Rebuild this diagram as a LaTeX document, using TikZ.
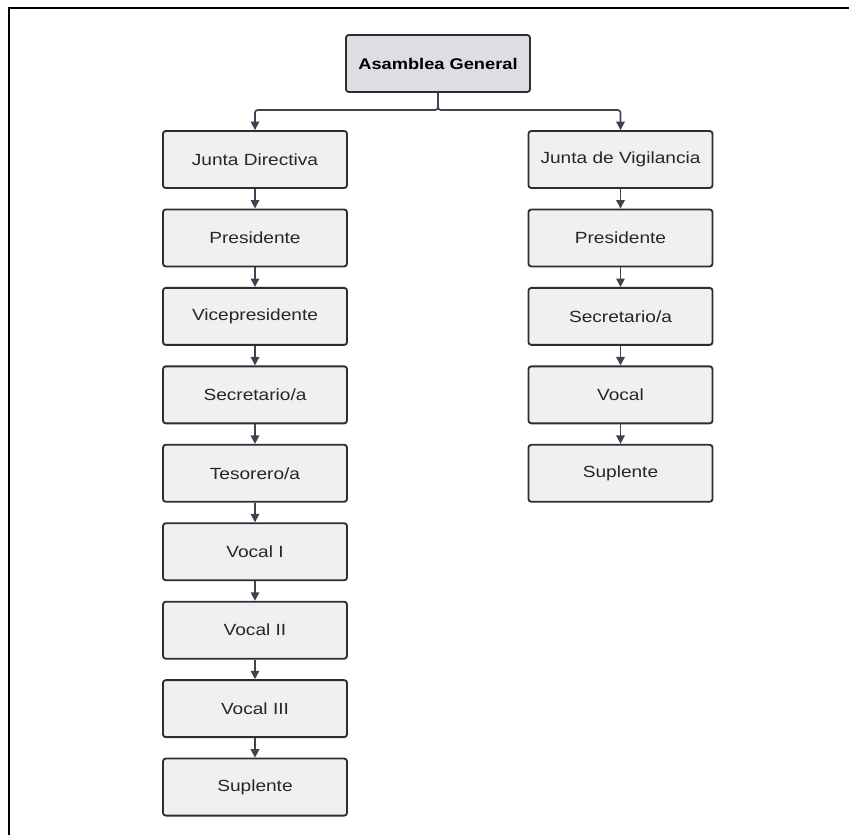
\documentclass[tikz,border=0pt]{standalone}
\usepackage{fontspec}
\setmainfont[FakeStretch=1.18]{Liberation Sans}
\usepackage{tikz}
\usetikzlibrary{positioning, arrows.meta}

\definecolor{boxfill}{HTML}{EFF0F2}
\definecolor{topfill}{HTML}{DCDEE3}
\definecolor{boxline}{HTML}{2B2D31}
\definecolor{arrline}{HTML}{3D4450}

\tikzset{
  cargo/.style={draw=boxline, line width=1.3pt, fill=boxfill, rounded corners=2pt,
    minimum width=4.6cm, minimum height=1.425cm, text=black!85,
    font=\fontsize{11.5}{13}\selectfont},
  asamblea/.style={cargo, fill=topfill, text=black, font=\fontsize{11}{13}\selectfont\bfseries},
  flecha/.style={draw=arrline, line width=1.2pt, arrows={-Triangle[length=6pt, width=6pt]}}
}

\begin{document}
\begin{tikzpicture}[x=0.025cm, y=-0.025cm, node distance=0.49cm]
	\useasboundingbox (0,0) rectangle (849,835);
	% marco
	\draw [line width=1.8pt] (9,835) -- (9,8) -- (849,8);

	\node [asamblea] (ag) at (438,63.5) {Asamblea General};
	\coordinate (split) at (438,110);

	% junta directiva
	\node [cargo] (jd) at (255,159.5) {Junta Directiva};
	\node [cargo, below=of jd] (jdpres) {Presidente};
	\node [cargo, below=of jdpres] (jdvice) {Vicepresidente};
	\node [cargo, below=of jdvice] (jdsecr) {Secretario/a};
	\node [cargo, below=of jdsecr] (jdteso) {Tesorero/a};
	\node [cargo, below=of jdteso] (jdvoc1) {Vocal I};
	\node [cargo, below=of jdvoc1] (jdvoc2) {Vocal II};
	\node [cargo, below=of jdvoc2] (jdvoc3) {Vocal III};
	\node [cargo, below=of jdvoc3] (jdsupl) {Suplente};

	% junta de vigilancia
	\node [cargo] (jv) at (620.5,159.5) {Junta de Vigilancia};
	\node [cargo, below=of jv] (jvpres) {Presidente};
	\node [cargo, below=of jvpres] (jvsecr) {Secretario/a};
	\node [cargo, below=of jvsecr] (jvvoc) {Vocal};
	\node [cargo, below=of jvvoc] (jvsupl) {Suplente};

	\draw [flecha, rounded corners=2pt] (ag.south) -- (split) -| (jd.north);
	\draw [flecha, rounded corners=2pt] (ag.south) -- (split) -| (jv.north);

	\draw [flecha] (jd) -- (jdpres);
	\draw [flecha] (jdpres) -- (jdvice);
	\draw [flecha] (jdvice) -- (jdsecr);
	\draw [flecha] (jdsecr) -- (jdteso);
	\draw [flecha] (jdteso) -- (jdvoc1);
	\draw [flecha] (jdvoc1) -- (jdvoc2);
	\draw [flecha] (jdvoc2) -- (jdvoc3);
	\draw [flecha] (jdvoc3) -- (jdsupl);

	\draw [flecha] (jv) -- (jvpres);
	\draw [flecha] (jvpres) -- (jvsecr);
	\draw [flecha] (jvsecr) -- (jvvoc);
	\draw [flecha] (jvvoc) -- (jvsupl);
\end{tikzpicture}
\end{document}
